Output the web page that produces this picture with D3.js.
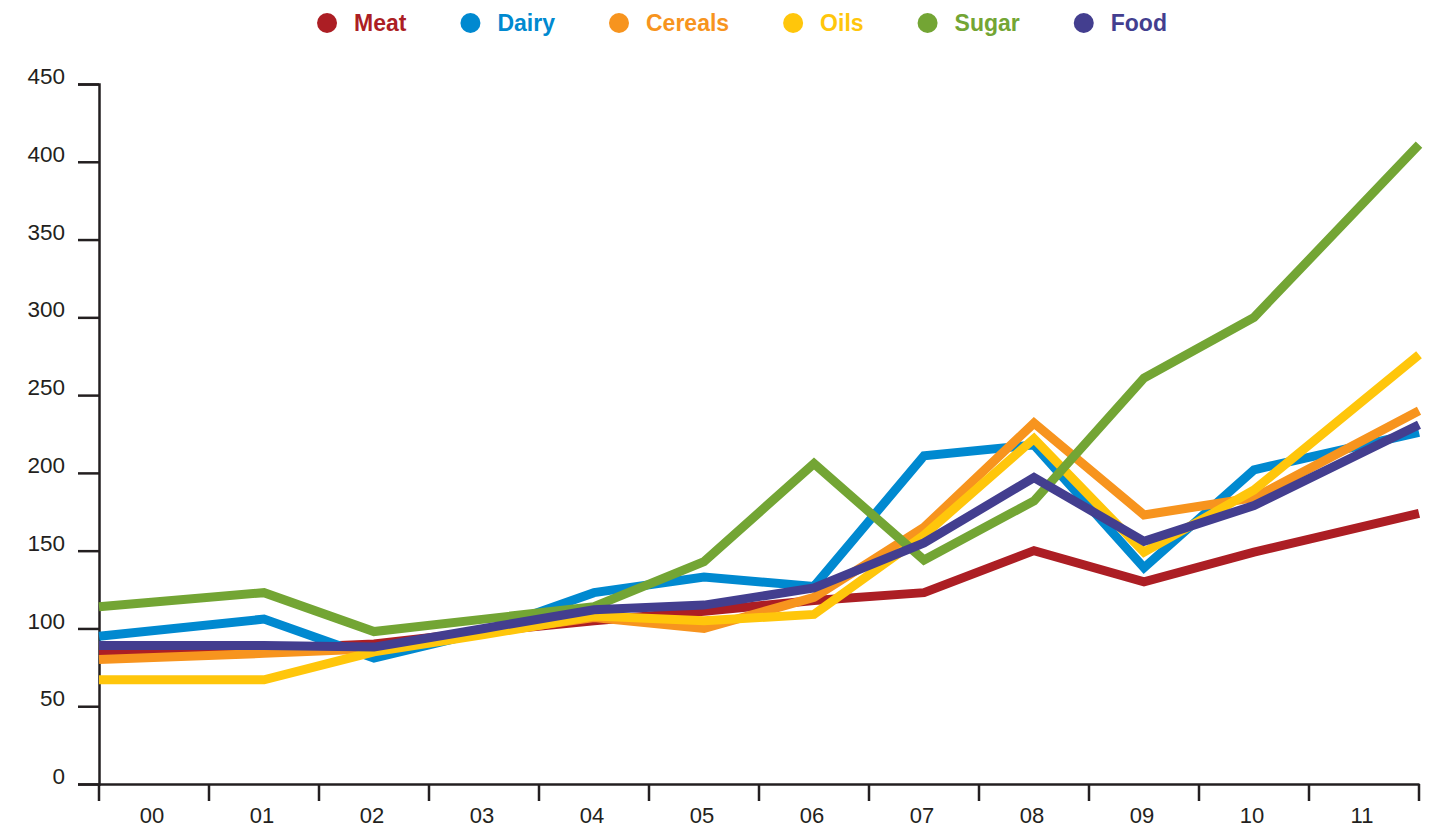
<!DOCTYPE html>
<html>
<head>
<meta charset="utf-8">
<script src="https://cdn.jsdelivr.net/npm/d3@7"></script>
<style>
  body { margin: 0; background: #fff; }
  svg { display: block; font-family: "Liberation Sans", Arial, sans-serif; }
</style>
</head>
<body>
<svg id="chart" width="1444" height="828"></svg>
<script>
// years on the x axis
var years = ["00", "01", "02", "03", "04", "05", "06", "07", "08", "09", "10", "11"];
var yTicks = [0, 50, 100, 150, 200, 250, 300, 350, 400, 450];

// price index per series
var meat    = [85, 87, 90, 98, 105, 111, 118, 123, 150, 130, 149, 174];
var dairy   = [95, 106, 81, 98, 123, 133, 127, 211, 218, 139, 202, 226];
var cereals = [80, 84, 87, 97, 107, 100, 120, 165, 232, 173, 184, 240];
var oils    = [67, 67, 85, 96, 108, 105, 109, 160, 222, 149, 189, 276];
var sugar   = [114, 123, 98, 106, 114, 143, 206, 144, 182, 261, 300, 411];
var food    = [89, 89, 88, 100, 112, 115, 126, 155, 197, 156, 179, 231];

var names  = ["Meat", "Dairy", "Cereals", "Oils", "Sugar", "Food"];
var colors = ["#ac1e24", "#0089d0", "#f7941e", "#ffc60b", "#73a534", "#433e8f"];
var series = [meat, dairy, cereals, oils, sugar, food];

var svg = d3.select("#chart"),
    margin = {top: 84, right: 25, bottom: 44, left: 99},
    width = +svg.attr("width") - margin.left - margin.right,
    height = +svg.attr("height") - margin.top - margin.bottom,
    g = svg.append("g").attr("transform", "translate(" + margin.left + "," + margin.top + ")");

var x = d3.scaleBand().domain(years).range([0, width]).padding(0);
var y = d3.scaleLinear().domain([0, 450]).range([height, 0]);

// first and last year sit on the ends of the axis, the others mid-band
function xPos(d, i) {
    if (i === 0) return x.range()[0];
    if (i === years.length - 1) return x.range()[1];
    return x(years[i]) + x.bandwidth() / 2;
}

var axisColor = "#231f20";

// y axis
var yAxis = g.append("g")
    .call(d3.axisLeft(y).tickValues(yTicks).tickSize(21).tickPadding(13));
yAxis.select(".domain").attr("stroke", axisColor).attr("stroke-width", 2.5);
yAxis.selectAll(".tick line").attr("stroke", axisColor).attr("stroke-width", 2.5);
yAxis.selectAll(".tick text")
    .attr("fill", axisColor)
    .attr("font-size", 22.5)
    .attr("dy", "-0.02em")
    .attr("y", 0);

// x axis
var xAxis = g.append("g")
    .attr("transform", "translate(0," + height + ")")
    .call(d3.axisBottom(x).tickSize(0).tickPadding(23));
xAxis.select(".domain").attr("stroke", axisColor).attr("stroke-width", 2.5);
xAxis.selectAll(".tick text").attr("fill", axisColor).attr("font-size", 22).attr("dx", "-2");

// band boundary ticks
g.append("g").selectAll("line")
    .data(d3.range(years.length + 1))
    .enter().append("line")
    .attr("x1", function(i) { return i * x.step(); })
    .attr("x2", function(i) { return i * x.step(); })
    .attr("y1", height)
    .attr("y2", height + 17)
    .attr("stroke", axisColor)
    .attr("stroke-width", 2.5);

// lines
var line = d3.line()
    .x(function(d, i) { return xPos(d, i); })
    .y(function(d) { return y(d); });

g.selectAll(".series")
    .data(series)
    .enter().append("path")
    .attr("class", "series")
    .attr("fill", "none")
    .attr("stroke", function(d, i) { return colors[i]; })
    .attr("stroke-width", 9)
    .attr("stroke-linejoin", "miter")
    .attr("d", line);

// legend
var legend = svg.append("g");
var lx = 0;
names.forEach(function(n, i) {
    var item = legend.append("g").attr("transform", "translate(" + lx + ",0)");
    item.append("circle").attr("cx", 0).attr("cy", 23).attr("r", 10).attr("fill", colors[i]);
    var t = item.append("text")
        .attr("x", 27)
        .attr("y", 31)
        .attr("font-size", 23)
        .attr("font-weight", "bold")
        .attr("fill", colors[i])
        .text(n);
    lx += 27 + t.node().getComputedTextLength() + 64;
});
var lb = legend.node().getBBox();
legend.attr("transform", "translate(" + (742 - (lb.x + lb.width / 2)) + ",0)");
</script>
</body>
</html>
